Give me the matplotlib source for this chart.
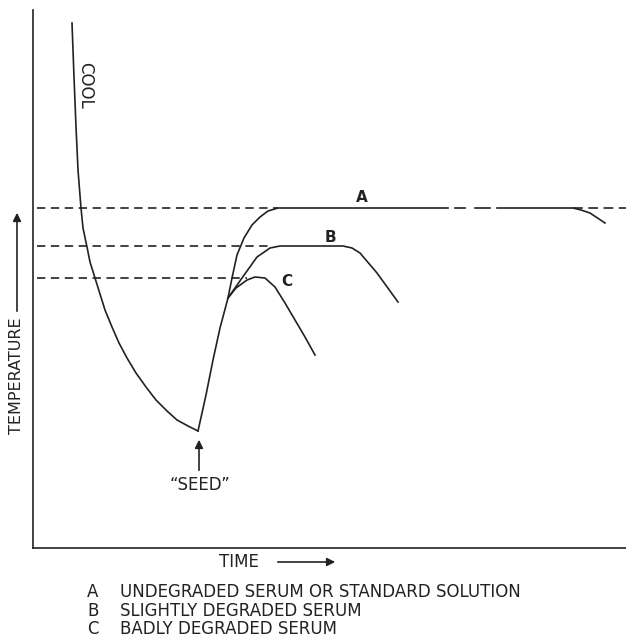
import matplotlib
matplotlib.use("Agg")
import matplotlib.pyplot as plt

plt.rcParams['lines.scale_dashes'] = False

W, H = 626, 637

# --- data (time, temperature), arbitrary units ---
cool_t = [39, 40, 41, 43, 44, 45, 48, 50, 54, 57, 62, 72, 79, 86, 94, 103, 113, 123, 134, 144, 155, 165]
cool_T = [525, 498, 471, 421, 400, 378, 340, 320, 301, 286, 270, 238, 221, 205, 190, 175, 161, 148, 137, 128, 122, 117]

seed_t = [165, 173, 180, 187, 195]
seed_T = [117, 153, 188, 220, 250]

a_t = [195, 199, 204, 211, 219, 227, 235, 245, 415]
a_T = [250, 270, 293, 310, 323, 331, 337, 340, 340]
a2_t = [464, 534, 540, 548, 557, 572]
a2_T = [340, 340, 340, 338, 335, 325]
a_gap = [(422, 432), (442, 457)]
a_ext_t = [540, 593]

b_t = [195, 209, 224, 237, 247, 310, 319, 327, 344, 365]
b_T = [250, 270, 291, 300, 302, 302, 300, 295, 275, 246]

c_t = [195, 203, 214, 222, 232, 242, 252, 262, 272, 282]
c_T = [250, 260, 268, 271, 270, 261, 245, 228, 211, 193]

levels = [340, 302, 270]
level_end = [245, 237, 214]
curve_names = ['A', 'B', 'C']
name_pos = [(329, 350), (297, 311), (254, 266)]

legend_text = ['UNDEGRADED SERUM OR STANDARD SOLUTION',
               'SLIGHTLY DEGRADED SERUM',
               'BADLY DEGRADED SERUM']

fig = plt.figure(figsize=(W / 100, H / 100), dpi=100)
ax = fig.add_axes([33 / W, (H - 548) / H, (W - 33) / W, (548 - 10) / H])
ax.set_xlim(0, W - 33)
ax.set_ylim(0, 538)
for s in ['top', 'right']:
    ax.spines[s].set_visible(False)
for s in ['left', 'bottom']:
    ax.spines[s].set_linewidth(1.2)
    ax.spines[s].set_color('#222222')
ax.set_xticks([])
ax.set_yticks([])

col = '#222222'
lw = 1.2
fs = 12

ax.plot(cool_t, cool_T, color=col, lw=lw)
ax.plot(seed_t, seed_T, color=col, lw=lw)
ax.plot(a_t, a_T, color=col, lw=lw)
ax.plot(a2_t, a2_T, color=col, lw=lw)
for g in a_gap:
    ax.plot(g, [340, 340], color=col, lw=lw)
ax.plot(a_ext_t, [340, 340], color=col, lw=lw, dashes=(7, 4))
ax.plot(b_t, b_T, color=col, lw=lw)
ax.plot(c_t, c_T, color=col, lw=lw)

for lev, end in zip(levels, level_end):
    ax.plot([4, end], [lev, lev], color=col, lw=lw, dashes=(6, 4))

for name, (x, y) in zip(curve_names, name_pos):
    ax.text(x, y, name, ha='center', va='center', fontsize=11, color=col, fontweight='bold')

ax.text(52, 463, 'COOL', rotation=270, ha='center', va='center', fontsize=fs, color=col)

# seed arrow
ax.annotate('', xy=(166, 111), xytext=(166, 75),
            arrowprops=dict(arrowstyle='-|>', color=col, lw=lw, mutation_scale=12))
ax.text(167, 63, '\u201cSEED\u201d', ha='center', va='center', fontsize=fs, color=col)

# axis labels with arrows
fig.text(239 / W, 1 - 562 / H, 'TIME', ha='center', va='center', fontsize=fs, color=col)
ax.annotate('', xy=(338 / W, 1 - 562 / H), xytext=(275 / W, 1 - 562 / H),
            xycoords='figure fraction', textcoords='figure fraction',
            arrowprops=dict(arrowstyle='-|>', color=col, lw=lw, mutation_scale=12))
fig.text(17 / W, 1 - 376 / H, 'TEMPERATURE', rotation=90, ha='center', va='center',
         fontsize=11.5, color=col)
ax.annotate('', xy=(17 / W, 1 - 210 / H), xytext=(17 / W, 1 - 314 / H),
            xycoords='figure fraction', textcoords='figure fraction',
            arrowprops=dict(arrowstyle='-|>', color=col, lw=lw, mutation_scale=12))

# legend below the chart
for i, (name, txt) in enumerate(zip(curve_names, legend_text)):
    y = 1 - [592, 611, 629][i] / H
    fig.text(93 / W, y, name, ha='center', va='center', fontsize=fs, color=col)
    fig.text(120 / W, y, txt, ha='left', va='center', fontsize=fs, color=col)

fig.savefig('out.png', dpi=100)
